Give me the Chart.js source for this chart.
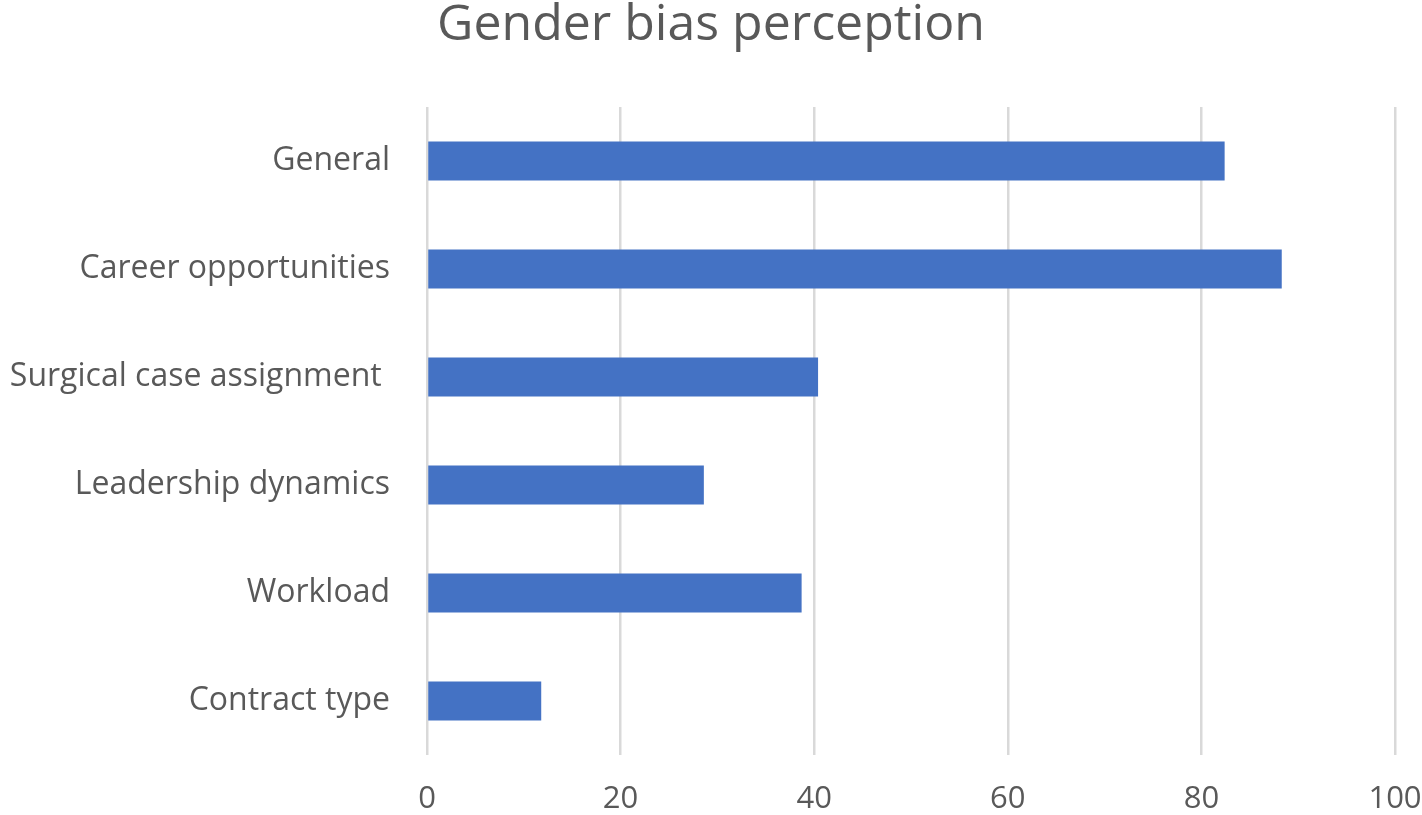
<!DOCTYPE html>
<html>
<head>
<meta charset="utf-8">
<script src="https://cdn.jsdelivr.net/npm/chart.js@4/dist/chart.umd.min.js"></script>
<style>
  html, body { margin: 0; padding: 0; background: #fff; }
  #wrap { width: 1422px; height: 815px; }
</style>
</head>
<body>
<div id="wrap"><canvas id="grafico"></canvas></div>
<script>
let categorias = ["General", "Career opportunities", "Surgical case assignment ", "Leadership dynamics", "Workload", "Contract type"];
let valores    = [82.4, 88.3, 40.4, 28.6, 38.7, 11.8];
let ticksX     = [0, 20, 40, 60, 80, 100];

let cinza = '#595959';
let fonte = '"Open Sans", Lato, sans-serif';

let ctx = document.getElementById('grafico').getContext('2d');

let grafico = new Chart(ctx, {
  type: 'bar',
  data: {
    labels: categorias,
    datasets: [{
      data: valores,
      backgroundColor: '#4472C4',
      borderWidth: 0,
      categoryPercentage: 1,
      barPercentage: 0.36
    }]
  },
  options: {
    indexAxis: 'y',
    responsive: true,
    maintainAspectRatio: false,
    animation: false,
    layout: { padding: 0 },
    plugins: {
      legend: { display: false },
      tooltip: { enabled: false },
      title: {
        display: true,
        text: 'Gender bias perception',
        color: cinza,
        font: { family: fonte, size: 50, weight: 'normal', lineHeight: 1.0 },
        padding: { top: 1, bottom: 56 }
      }
    },
    scales: {
      x: {
        min: 0,
        max: 100,
        afterBuildTicks: (scale) => { scale.ticks = ticksX.map(v => ({ value: v })); },
        afterFit: (scale) => {
          scale.height = 60;
          scale.paddingLeft = 0;
          scale.paddingRight = 27;
        },
        grid: { color: '#d9d9d9', lineWidth: 2.5, drawTicks: false },
        border: { display: false },
        ticks: { color: cinza, font: { family: fonte, size: 31 }, padding: 26 }
      },
      y: {
        afterFit: (scale) => { scale.width = 427; },
        grid: { display: false, drawTicks: false },
        border: { display: false },
        ticks: { color: cinza, font: { family: fonte, size: 32 }, padding: 37 }
      }
    }
  }
});
</script>
</body>
</html>
